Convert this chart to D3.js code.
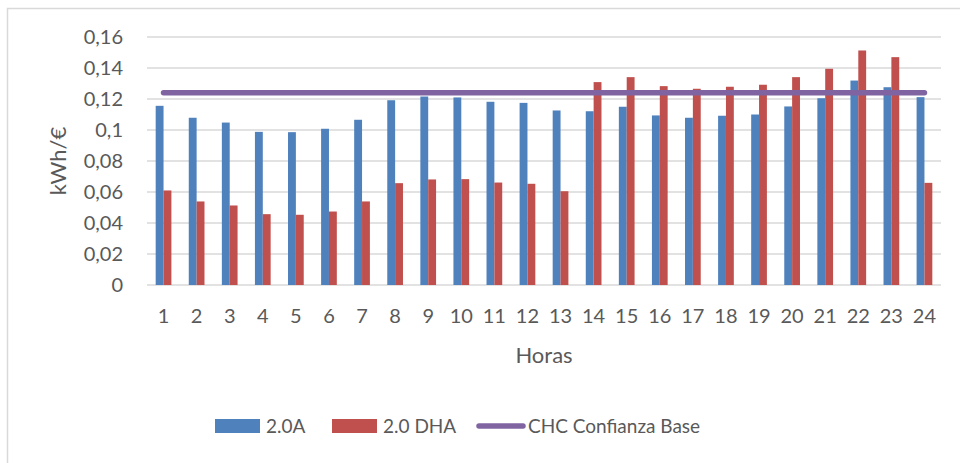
<!DOCTYPE html>
<html>
<head>
<meta charset="utf-8">
<script src="https://cdn.jsdelivr.net/npm/d3@7"></script>
<style>
  body { margin: 0; background: #fff; }
  text { font-family: Lato, "Open Sans", sans-serif; fill: #595959; }
</style>
</head>
<body>
<div id="chart"></div>
<script>
// Data
const horas = ["1","2","3","4","5","6","7","8","9","10","11","12","13","14","15","16","17","18","19","20","21","22","23","24"];
const tarifa20A = [0.1156, 0.1079, 0.1048, 0.0988, 0.0986, 0.1008, 0.1066, 0.1192, 0.1216, 0.1210, 0.1182, 0.1175,
                   0.1126, 0.1121, 0.1150, 0.1094, 0.1079, 0.1092, 0.1100, 0.1152, 0.1205, 0.1319, 0.1276, 0.1212];
const tarifa20DHA = [0.0610, 0.0539, 0.0513, 0.0457, 0.0453, 0.0474, 0.0539, 0.0657, 0.0681, 0.0683, 0.0661, 0.0653,
                     0.0605, 0.1309, 0.1341, 0.1283, 0.1266, 0.1279, 0.1292, 0.1341, 0.1395, 0.1513, 0.1470, 0.0659];
const chcBase = 0.124;
const yTicks = [0, 0.02, 0.04, 0.06, 0.08, 0.1, 0.12, 0.14, 0.16];
const seriesNames = ["2.0A", "2.0 DHA", "CHC Confianza Base"];
const colors = ["#4F81BD", "#C0504D", "#8064A2"];

const width = 960;
const height = 463;
const margin = { top: 37, right: 19, bottom: 178, left: 147 };
const innerWidth = width - margin.left - margin.right;
const innerHeight = height - margin.top - margin.bottom;

const esLocale = d3.formatLocale({ decimal: ",", thousands: ".", grouping: [3], currency: ["", " €"] });
const fmt = esLocale.format("~g");

const svg = d3.select("#chart")
  .append("svg")
  .attr("width", width)
  .attr("height", height);

// chart frame (only left and top edges are visible)
svg.append("path")
  .attr("d", `M7.5,${height} V8.5 H${width}`)
  .attr("fill", "none")
  .attr("stroke", "#D9D9D9")
  .attr("stroke-width", 1.5);

const chart = svg.append("g")
  .attr("transform", `translate(${margin.left}, ${margin.top})`);

const xScale = d3.scaleBand()
  .domain(horas)
  .range([0, innerWidth])
  .paddingInner(0.525)
  .paddingOuter(0.2625);

const xSub = d3.scaleBand()
  .domain([0, 1])
  .range([0, xScale.bandwidth()]);

const yScale = d3.scaleLinear()
  .domain([0, 0.16])
  .range([innerHeight, 0]);

// gridlines
chart.append("g")
  .selectAll("line")
  .data(yTicks)
  .enter()
  .append("line")
  .attr("x1", 0)
  .attr("x2", innerWidth)
  .attr("y1", d => yScale(d))
  .attr("y2", d => yScale(d))
  .attr("stroke", "#D9D9D9")
  .attr("stroke-width", 1.5);

// y tick labels
chart.append("g")
  .selectAll("text")
  .data(yTicks)
  .enter()
  .append("text")
  .attr("x", -24)
  .attr("y", d => yScale(d) + 7)
  .attr("text-anchor", "end")
  .style("font-size", "20px")
  .text(d => fmt(d));

// bars
const seriesData = [tarifa20A, tarifa20DHA];
seriesData.forEach((values, s) => {
  chart.append("g")
    .selectAll("rect")
    .data(values)
    .enter()
    .append("rect")
    .attr("x", (d, i) => xScale(horas[i]) + xSub(s))
    .attr("y", d => yScale(d))
    .attr("width", xSub.bandwidth())
    .attr("height", d => innerHeight - yScale(d))
    .attr("fill", colors[s]);
});

// CHC line
const line = d3.line()
  .x(d => xScale(d) + xScale.bandwidth() / 2)
  .y(() => yScale(chcBase));

chart.append("path")
  .datum(horas)
  .attr("d", line)
  .attr("fill", "none")
  .attr("stroke", colors[2])
  .attr("stroke-width", 5.5)
  .attr("stroke-linecap", "round");

// x labels
chart.append("g")
  .selectAll("text")
  .data(horas)
  .enter()
  .append("text")
  .attr("x", d => xScale(d) + xScale.bandwidth() / 2)
  .attr("y", innerHeight + 38)
  .attr("text-anchor", "middle")
  .style("font-size", "20px")
  .text(d => d);

// axis titles
svg.append("text")
  .attr("x", margin.left + innerWidth / 2)
  .attr("y", 363)
  .attr("text-anchor", "middle")
  .style("font-size", "22px")
  .text("Horas");

svg.append("text")
  .attr("transform", "rotate(-90)")
  .attr("x", -161)
  .attr("y", 66)
  .attr("text-anchor", "middle")
  .style("font-size", "22px")
  .text("kWh/€");

// legend
const legend = svg.append("g");
const legendItems = [
  { name: seriesNames[0], x: 215, type: "rect" },
  { name: seriesNames[1], x: 332, type: "rect" },
  { name: seriesNames[2], x: 477, type: "line" }
];
legendItems.forEach((item, i) => {
  if (item.type === "rect") {
    legend.append("rect")
      .attr("x", item.x)
      .attr("y", 419)
      .attr("width", 45)
      .attr("height", 14)
      .attr("fill", colors[i]);
  } else {
    legend.append("line")
      .attr("x1", item.x + 2)
      .attr("x2", item.x + 46)
      .attr("y1", 426)
      .attr("y2", 426)
      .attr("stroke", colors[i])
      .attr("stroke-width", 5.5)
      .attr("stroke-linecap", "round");
  }
  legend.append("text")
    .attr("x", item.x + 51)
    .attr("y", 433)
    .style("font-size", "19px")
    .text(item.name);
});
</script>
</body>
</html>
